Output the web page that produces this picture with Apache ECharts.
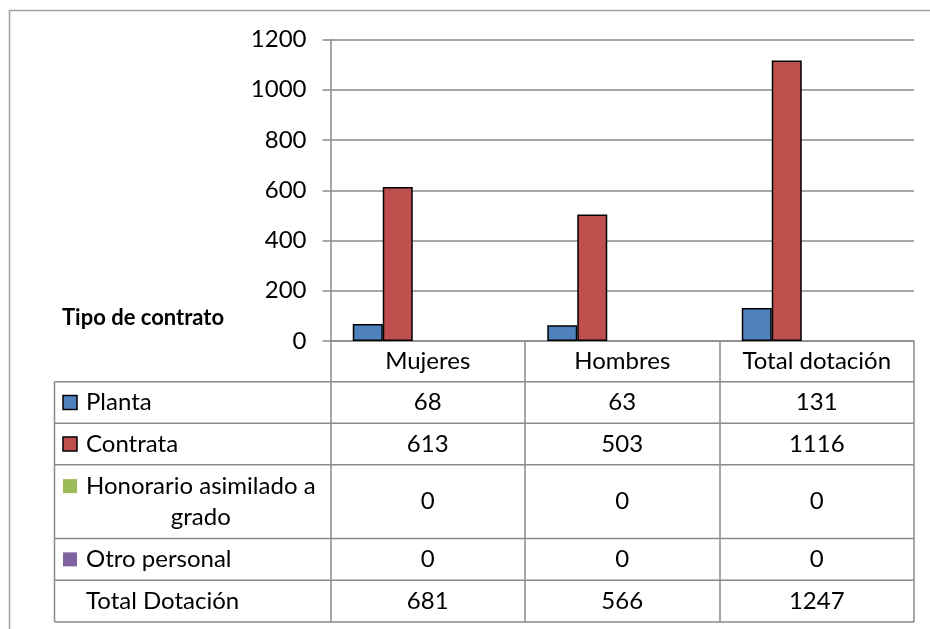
<!DOCTYPE html>
<html><head><meta charset="utf-8">
<script src="https://cdn.jsdelivr.net/npm/echarts@6/dist/echarts.min.js"></script>
<style>html,body{margin:0;padding:0;background:#fff}#c{width:930px;height:629px}</style>
</head><body><div id="c"></div>
<script>
// ---- data ----
const categories = ['Mujeres', 'Hombres', 'Total dotación'];
const rowLabels = ['Planta', 'Contrata', 'Honorario asimilado a\ngrado', 'Otro personal', 'Total Dotación'];
const seriesNames = ['Planta', 'Contrata', 'Honorario asimilado a grado', 'Otro personal', 'Total Dotación'];
const planta = [68, 63, 131];
const contrata = [613, 503, 1116];
const honorario = [0, 0, 0];
const otroPersonal = [0, 0, 0];
const totalDotacion = [681, 566, 1247];
const yMin = 0, yMax = 1200, yStep = 200;
const tableTitle = 'Tipo de contrato';

// ---- styles / layout ----
const FONT = 'Lato';
const FS = 24;
const LH2 = 31;
const GRAY = '#8a8a8a';
const seriesColors = ['#4F81BD', '#C0504D', '#9BBB59', '#8064A2', 'rgba(0,0,0,0)'];
const seriesBorder = [true, true, false, false, false];
const gridLeft = 330.5, gridRight = 914, gridTop = 39.5, axisY = 341;
const rowHeights = [40.7, 41.5, 41.5, 73.8, 41.7, 41.7]; // header + 5 rows
const tableLeft = 54.5;
const keyX = 63, keySize = 14, textX = 86;

const allSeries = [planta, contrata, honorario, otroPersonal, totalDotacion];

const chart = echarts.init(document.getElementById('c'), null, {renderer: 'canvas'});
const tableHeight = rowHeights.reduce((a, b) => a + b, 0);

const option = {
  animation: false,
  backgroundColor: '#fff',
  grid: {left: gridLeft, right: 930 - gridRight, top: gridTop, bottom: 629 - axisY, containLabel: false},
  xAxis: {
    type: 'category', data: categories,
    axisLine: {show: true, lineStyle: {color: GRAY, width: 1.5}},
    axisTick: {show: true, length: tableHeight, lineStyle: {color: GRAY, width: 1.5}},
    axisLabel: {color: '#000', fontFamily: FONT, fontSize: FS, margin: 6, lineHeight: 28},
    splitLine: {show: false}
  },
  yAxis: {
    type: 'value', min: yMin, max: yMax, interval: yStep,
    axisLine: {show: true, lineStyle: {color: GRAY, width: 1.5}},
    axisTick: {show: true, length: 8, lineStyle: {color: GRAY, width: 1.5}},
    axisLabel: {color: '#000', fontFamily: FONT, fontSize: FS, margin: 24, formatter: v => String(v)},
    splitLine: {show: true, lineStyle: {color: GRAY, width: 1.5}}
  },
  series: allSeries.map((d, i) => ({
    name: seriesNames[i], type: 'bar', data: d,
    barGap: '0%', barCategoryGap: '22.9%',
    silent: true,
    itemStyle: {
      color: seriesColors[i],
      borderColor: seriesBorder[i] ? '#000' : 'rgba(0,0,0,0)',
      borderWidth: seriesBorder[i] ? 1.5 : 0
    }
  }))
};
chart.setOption(option);

// ---- data table drawn beneath the axis ----
const ctx = document.createElement('canvas').getContext('2d');
ctx.font = FS + 'px ' + FONT;
const elements = [];
elements.push({type: 'rect', shape: {x: 9.5, y: 10.5, width: 940, height: 640}, style: {fill: null, stroke: '#a0a0a0', lineWidth: 1.5}, silent: true, z: 0});
elements.push({type: 'text', x: 62, y: 318, style: {text: tableTitle, fontFamily: FONT, fontSize: 22, fontWeight: 'bold', fill: '#000', verticalAlign: 'middle', align: 'left'}, z: 10});

let y = axisY + rowHeights[0];
const colCenters = categories.map((c, i) => chart.convertToPixel({xAxisIndex: 0}, i));
elements.push({type: 'line', shape: {x1: tableLeft, y1: y, x2: tableLeft, y2: axisY + tableHeight}, style: {stroke: GRAY, lineWidth: 1.5}, z: 10});
for (let r = 0; r < rowLabels.length; r++) {
  const h = rowHeights[r + 1];
  const cy = y + h / 2;
  const lines = rowLabels[r].split('\n');
  const keyCy = cy - (lines.length - 1) * LH2 / 2;
  elements.push({type: 'line', shape: {x1: tableLeft, y1: y, x2: gridRight, y2: y}, style: {stroke: GRAY, lineWidth: 1.5}, z: 10});
  if (r < 4) {
    elements.push({type: 'rect', shape: {x: keyX, y: keyCy - keySize / 2, width: keySize, height: keySize},
      style: {fill: seriesColors[r], stroke: seriesBorder[r] ? '#000' : null, lineWidth: 1.5}, z: 11});
  }
  if (lines.length === 1) {
    elements.push({type: 'text', x: textX, y: cy, style: {text: lines[0], fontFamily: FONT, fontSize: FS, fill: '#000', verticalAlign: 'middle', align: 'left'}, z: 11});
  } else {
    const w = ctx.measureText(lines[0]).width;
    elements.push({type: 'text', x: textX + w / 2, y: cy, style: {text: rowLabels[r], fontFamily: FONT, fontSize: FS, lineHeight: LH2, fill: '#000', verticalAlign: 'middle', align: 'center'}, z: 11});
  }
  allSeries[r].forEach((v, i) => {
    elements.push({type: 'text', x: colCenters[i], y: cy, style: {text: String(v), fontFamily: FONT, fontSize: FS, fill: '#000', verticalAlign: 'middle', align: 'center'}, z: 11});
  });
  y += h;
}
elements.push({type: 'line', shape: {x1: tableLeft, y1: y, x2: gridRight, y2: y}, style: {stroke: GRAY, lineWidth: 1.5}, z: 10});

chart.setOption({graphic: {elements}});
</script>
</body></html>
